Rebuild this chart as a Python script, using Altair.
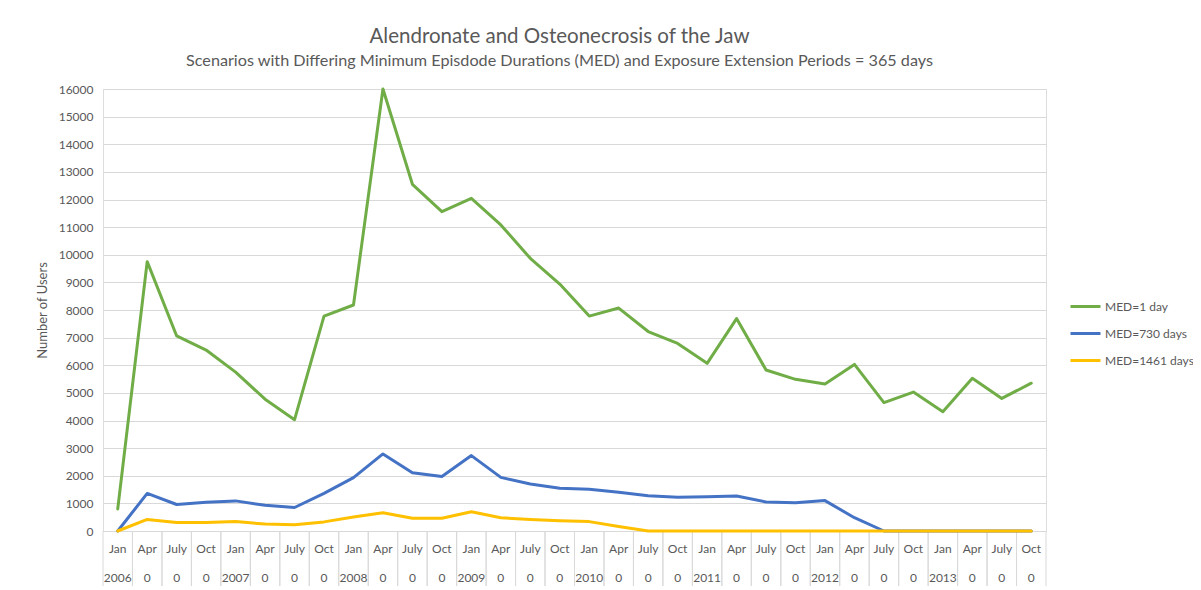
import altair as alt
import pandas as pd

months = ["Jan", "Apr", "July", "Oct"] * 8
years = []
for y in range(2006, 2014):
    years += [str(y), "0", "0", "0"]

med1 = [800, 9750, 7060, 6550, 5750, 4770, 4030, 7780,
        8180, 16000, 12550, 11560, 12040, 11080, 9870, 8940,
        7780, 8070, 7220, 6790, 6070, 7690, 5830, 5490,
        5320, 6030, 4650, 5030, 4320, 5530, 4800, 5350]
med730 = [0, 1360, 960, 1040, 1090, 930, 850, 1360,
          1930, 2790, 2110, 1970, 2730, 1940, 1700, 1550,
          1510, 1400, 1280, 1220, 1240, 1270, 1050, 1020,
          1100, 480, 0, 0, 0, 0, 0, 0]
med1461 = [0, 420, 310, 310, 340, 250, 230, 330,
           510, 660, 460, 460, 700, 480, 420, 370,
           340, 160, 0, 0, 0, 0, 0, 0,
           0, 0, 0, 0, 0, 0, 0, 0]

series_names = ["MED=1 day", "MED=730 days", "MED=1461 days"]
series_colors = ["#70AD47", "#4472C4", "#FFC000"]

rows = []
for name, vals in zip(series_names, [med1, med730, med1461]):
    for i, v in enumerate(vals):
        rows.append({"idx": i, "series": name, "order": series_names.index(name), "value": v})
df = pd.DataFrame(rows)
lab = pd.DataFrame({"idx": list(range(len(months))), "month": months, "year": years})

FONT = "Lato"
GRAY = "#595959"
W, H = 943, 442

xscale = alt.Scale(type="band", paddingInner=0, paddingOuter=0)

lines = alt.Chart(df).mark_line(strokeWidth=3, strokeCap="round", strokeJoin="round").encode(
    x=alt.X("idx:O", scale=xscale, bandPosition=0.5,
            axis=alt.Axis(title=None, labels=False, ticks=False,
                          domainColor="#d9d9d9", domainWidth=1, grid=False)),
    y=alt.Y("value:Q", scale=alt.Scale(domain=[0, 16000], nice=False),
            axis=alt.Axis(title="Number of Users", values=list(range(0, 16001, 1000)),
                          format="d", ticks=False, domain=False, labelPadding=10,
                          labelFontSize=12, labelColor=GRAY, labelFont=FONT,
                          titleFontSize=13, titleColor=GRAY, titleFont=FONT,
                          titleFontWeight="normal", titlePadding=9,
                          gridColor="#d9d9d9", gridWidth=1)),
    color=alt.Color("series:N", scale=alt.Scale(domain=series_names, range=series_colors),
                    legend=alt.Legend(title=None, orient="none", legendX=966, legendY=201,
                                      symbolType="stroke", symbolSize=900, symbolStrokeWidth=3,
                                      labelFontSize=12, labelColor=GRAY, labelFont=FONT,
                                      rowPadding=4, labelOffset=3, labelLimit=200)),
    order=alt.Order("order:Q"),
)

sep_left = alt.Chart(lab).mark_rule(color="#d9d9d9", strokeWidth=1).encode(
    x=alt.X("idx:O", scale=xscale, bandPosition=0),
    y=alt.value(H), y2=alt.value(H + 60),
)
sep_right = alt.Chart(lab).mark_rule(color="#d9d9d9", strokeWidth=1).encode(
    x=alt.X("idx:O", scale=xscale, bandPosition=1),
    y=alt.value(H), y2=alt.value(H + 60),
)
month_text = alt.Chart(lab).mark_text(font=FONT, fontSize=12, color=GRAY, baseline="middle").encode(
    x=alt.X("idx:O", scale=xscale, bandPosition=0.5),
    y=alt.value(H + 18),
    text="month:N",
)
year_text = alt.Chart(lab).mark_text(font=FONT, fontSize=12, color=GRAY, baseline="middle").encode(
    x=alt.X("idx:O", scale=xscale, bandPosition=0.5),
    y=alt.value(H + 47),
    text="year:N",
)

chart = alt.layer(sep_left, sep_right, month_text, year_text, lines).properties(
    width=W, height=H,
    title=alt.Title("Alendronate and Osteonecrosis of the Jaw",
                    subtitle="Scenarios with Differing Minimum Episdode Durations (MED) and Exposure Extension Periods = 365 days",
                    font=FONT, fontSize=20.5, fontWeight="normal", color=GRAY,
                    subtitleFont=FONT, subtitleFontSize=16.2, subtitleColor=GRAY,
                    subtitlePadding=5, offset=14, anchor="middle", dx=-15),
    autosize=alt.AutoSizeParams(type="none"),
    padding={"left": 95, "top": 81, "right": 147, "bottom": 55},
).configure_view(stroke=None).configure(background="white")

chart.save("out.html", embed_options={"renderer": "svg", "actions": False})
